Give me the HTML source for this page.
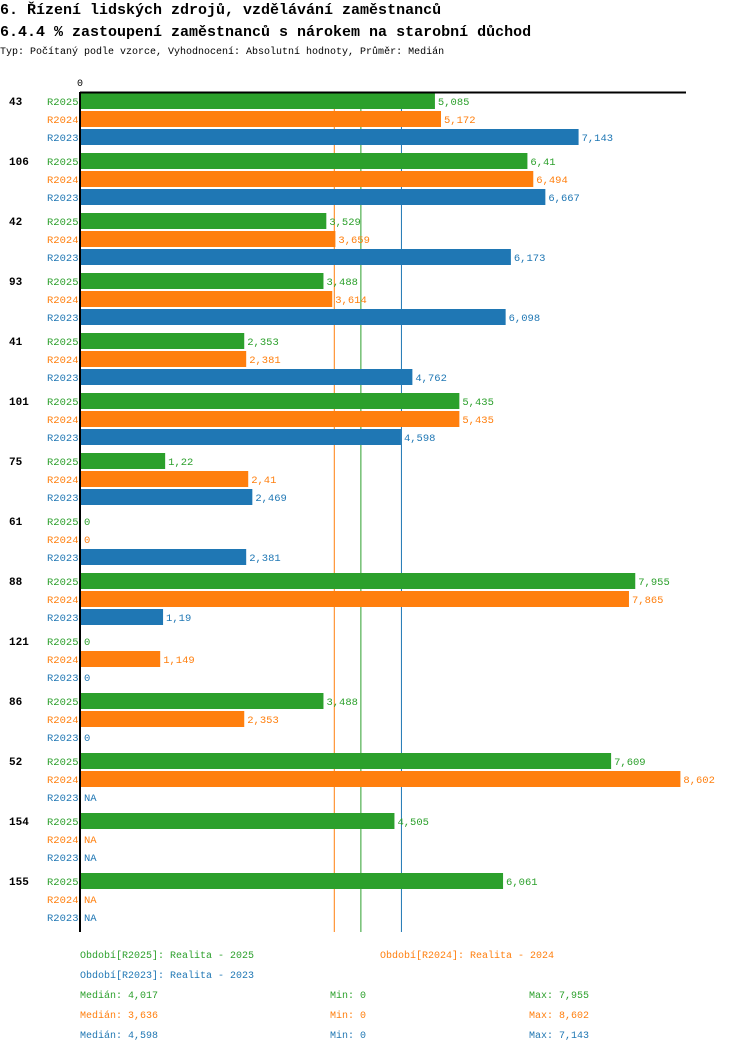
<!DOCTYPE html>
<html><head><meta charset="utf-8"><style>
body{margin:0;background:#fff;width:750px;height:1052px;overflow:hidden}
svg text{font-family:"Liberation Mono",monospace}
</style></head><body>
<svg id="c" width="750" height="1052">
<text x="0" y="14" font-size="15" font-weight="bold">6. Řízení lidských zdrojů, vzdělávání zaměstnanců</text>
<text x="0" y="36" font-size="15" font-weight="bold">6.4.4 % zastoupení zaměstnanců s nárokem na starobní důchod</text>
<text x="0" y="54" font-size="10">Typ: Počítaný podle vzorce, Vyhodnocení: Absolutní hodnoty, Průměr: Medián</text>
<text x="77" y="86" font-size="10">0</text>
<g id="g"></g>
</svg>
<script>
const categories=["43","106","42","93","41","101","75","61","88","121","86","52","154","155"];
const seriesNames=["R2025","R2024","R2023"];
const r2025=[5.085,6.41,3.529,3.488,2.353,5.435,1.22,0,7.955,0,3.488,7.609,4.505,6.061];
const r2024=[5.172,6.494,3.659,3.614,2.381,5.435,2.41,0,7.865,1.149,2.353,8.602,null,null];
const r2023=[7.143,6.667,6.173,6.098,4.762,4.598,2.469,2.381,1.19,0,0,null,null,null];
const medians=[4.017,3.636,4.598];
const mins=[0,0,0];
const maxs=[7.955,8.602,7.143];
const legendLabels=["Období[R2025]: Realita - 2025","Období[R2024]: Realita - 2024","Období[R2023]: Realita - 2023"];
const colors=["#2ca02c","#ff7f0e","#1f77b4"];
const series=[r2025,r2024,r2023];
const X0=80,K=69.8;
const x=v=>X0+v*K;
const yRow=(i,s)=>93+i*60+s*18;
const g=document.getElementById('g');
const NS="http://www.w3.org/2000/svg";
function mk(t,a){const e=document.createElementNS(NS,t);for(const k in a)e.setAttribute(k,a[k]);g.appendChild(e);return e;}
const fmt=v=>v===null?"NA":String(v).replace('.',',');
const medOrder=[1,0,2];
medOrder.forEach(s=>{const l=mk('line',{x1:x(medians[s])+0.5,x2:x(medians[s])+0.5,y1:92,y2:932,stroke:colors[s],'stroke-width':1});

});
categories.forEach((c,i)=>{
 const t=mk('text',{x:9,y:yRow(i,0)+12,'font-size':11,'font-weight':'bold'});t.textContent=c;
 
 
 series.forEach((arr,s)=>{
  const y=yRow(i,s),v=arr[i];
  const lb=mk('text',{x:47,y:y+12,'font-size':10.5,fill:colors[s]});lb.textContent=seriesNames[s];
  
  
  let end=X0+1;
  if(v){const r=mk('rect',{x:X0+1,y:y,width:x(v)-X0-1,height:16,fill:colors[s]});
   
   end=x(v);}
  const vt=mk('text',{x:end+3,y:y+12,'font-size':10.5,fill:colors[s]});vt.textContent=fmt(v);
  
  
 });
});
const ax=mk('path',{d:'M80 92V932M80 92.5H686',stroke:'#000','stroke-width':2,fill:'none'});


const lp=[[80,958],[380,958],[80,978]];
legendLabels.forEach((t,s)=>{const e=mk('text',{x:lp[s][0],y:lp[s][1],'font-size':10,fill:colors[s]});e.textContent=t;
 
 });
[0,1,2].forEach(s=>{const y=998+s*20;
 const a=mk('text',{x:80,y:y,'font-size':10,fill:colors[s]});a.textContent="Medián: "+fmt(medians[s]);
 
 
 const b=mk('text',{x:330,y:y,'font-size':10,fill:colors[s]});b.textContent="Min: "+fmt(mins[s]);
 
 
 const d=mk('text',{x:529,y:y,'font-size':10,fill:colors[s]});d.textContent="Max: "+fmt(maxs[s]);
 
 });
</script>
</body></html>
